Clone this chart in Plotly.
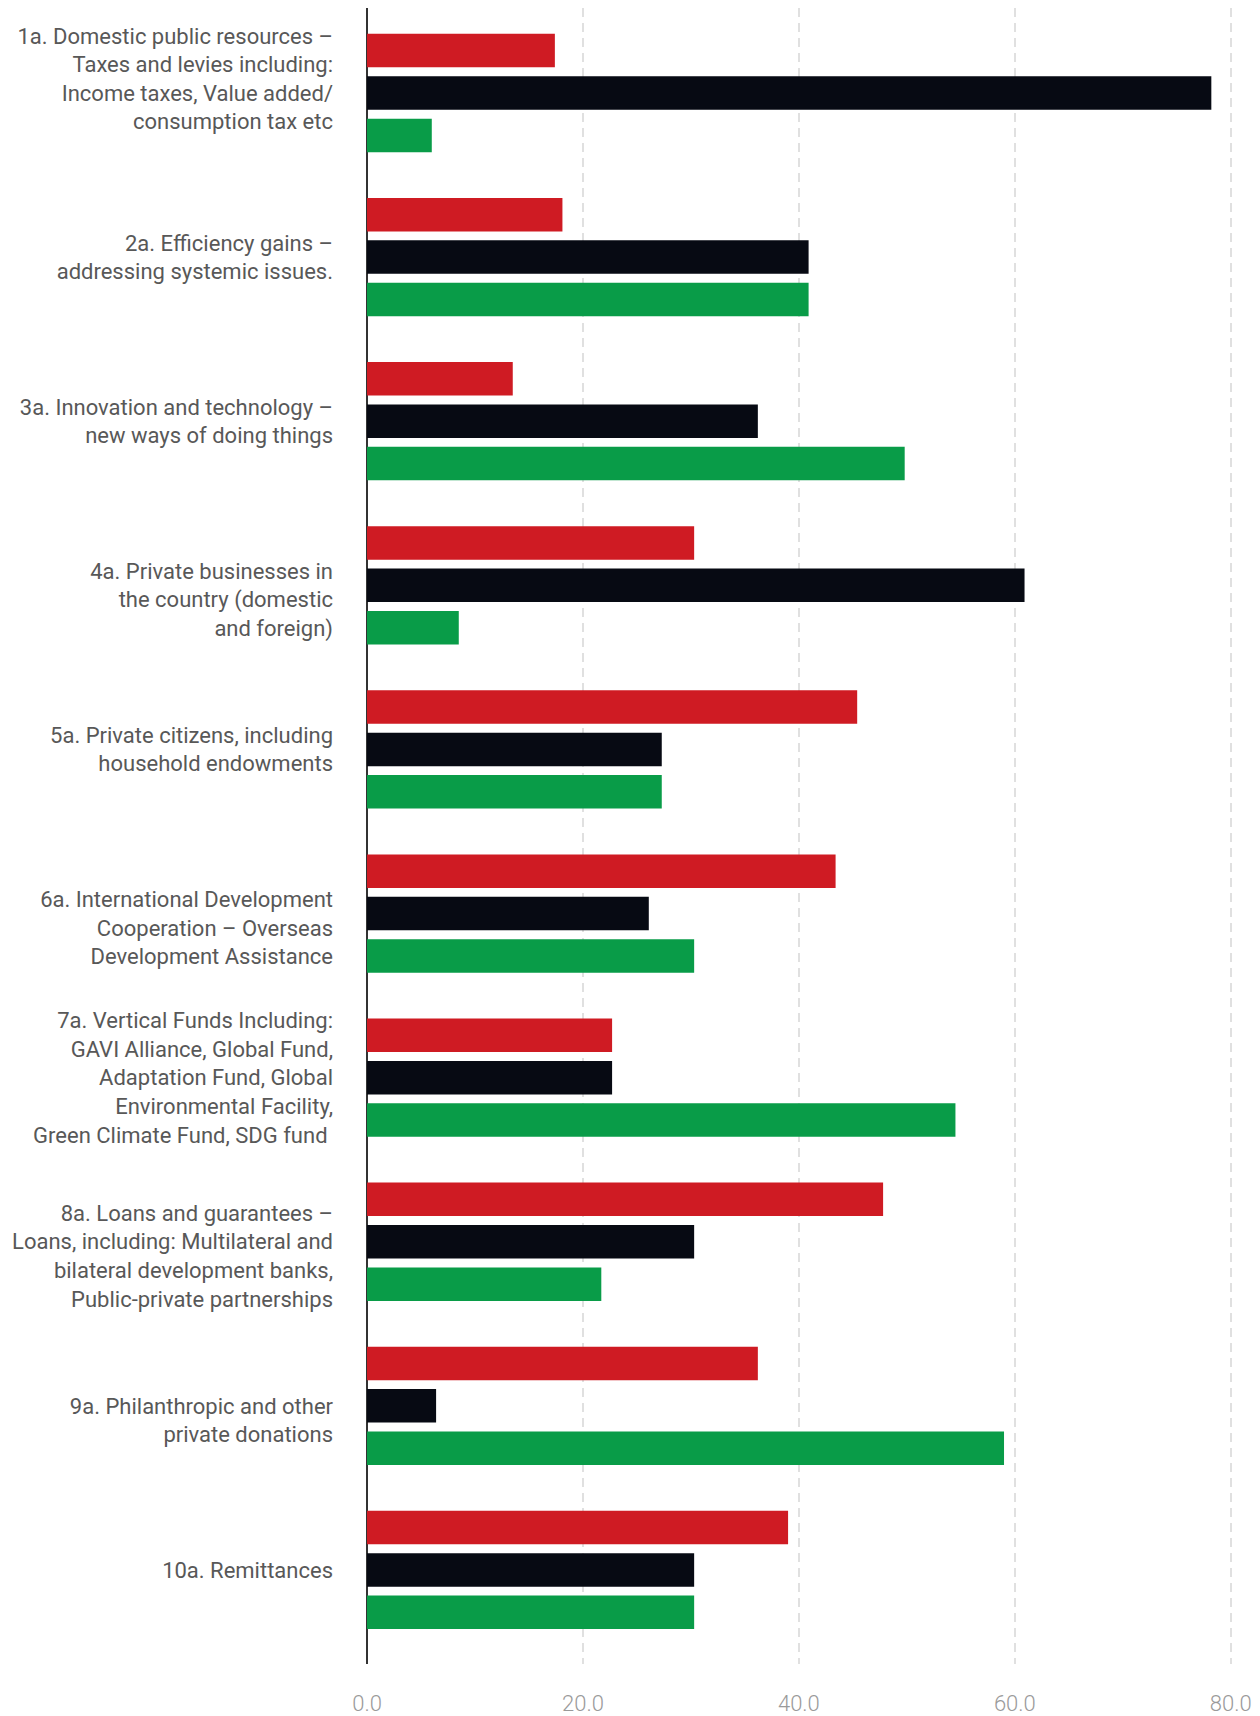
import plotly.graph_objects as go

categories = [
    "1a. Domestic public resources –<br>Taxes and levies including:<br>Income taxes, Value added/<br>consumption tax etc<br>\u00a0",
    "2a. Efficiency gains –<br>addressing systemic issues.",
    "3a. Innovation and technology –<br>new ways of doing things",
    "\u00a0<br>4a. Private businesses in<br>the country (domestic<br>and foreign)",
    "5a. Private citizens, including<br>household endowments",
    "\u00a0<br>6a. International Development<br>Cooperation – Overseas<br>Development Assistance",
    "7a. Vertical Funds Including:<br>GAVI Alliance, Global Fund,<br>Adaptation Fund, Global<br>Environmental Facility,<br>Green Climate Fund, SDG fund\u00a0",
    "\u00a0<br>8a. Loans and guarantees –<br>Loans, including: Multilateral and<br>bilateral development banks,<br>Public-private partnerships",
    "\u00a0<br>9a. Philanthropic and other<br>private donations",
    "10a. Remittances",
]

series_red = [17.4, 18.1, 13.5, 30.3, 45.4, 43.4, 22.7, 47.8, 36.2, 39.0]
series_black = [78.2, 40.9, 36.2, 60.9, 27.3, 26.1, 22.7, 30.3, 6.4, 30.3]
series_green = [6.0, 40.9, 49.8, 8.5, 27.3, 30.3, 54.5, 21.7, 59.0, 30.3]

x_ticks = [0, 20, 40, 60, 80]
x_ticklabels = ["0.0", "20.0", "40.0", "60.0", "80.0"]

colors = ["#CF1B23", "#070A13", "#099C48"]

fig = go.Figure()
for vals, col, name in [(series_red, colors[0], "A"), (series_black, colors[1], "B"), (series_green, colors[2], "C")]:
    fig.add_trace(go.Bar(
        y=categories, x=vals, orientation="h", name=name,
        marker=dict(color=col, line=dict(width=0)),
        hoverinfo="x+name",
    ))

# the page body adds an 8px margin around the figure
fig.update_layout(
    width=1252, height=1708,
    margin=dict(l=358.5, r=26.3, t=0, b=52),
    barmode="group",
    bargap=0.225,
    bargroupgap=0.21,
    showlegend=False,
    plot_bgcolor="white",
    paper_bgcolor="white",
    xaxis=dict(
        range=[0, 80.3],
        tickvals=x_ticks,
        ticktext=x_ticklabels,
        showgrid=True,
        gridcolor="#e0e0e0",
        gridwidth=2,
        griddash="9px,6px",
        zeroline=True,
        zerolinecolor="#333333",
        zerolinewidth=2,
        showline=False,
        ticks="",
        automargin=False,
        ticklabelstandoff=24,
        tickfont=dict(family="Roboto", size=22, weight=300, color="#9a9a9a"),
    ),
    yaxis=dict(
        type="category",
        range=[9.573, -0.518],
        showgrid=False,
        zeroline=False,
        showline=False,
        ticks="",
        automargin=False,
        ticklabelstandoff=33,
        tickfont=dict(family="Roboto", size=22, color="#585858"),
    ),
)

fig.write_html("out.html")
